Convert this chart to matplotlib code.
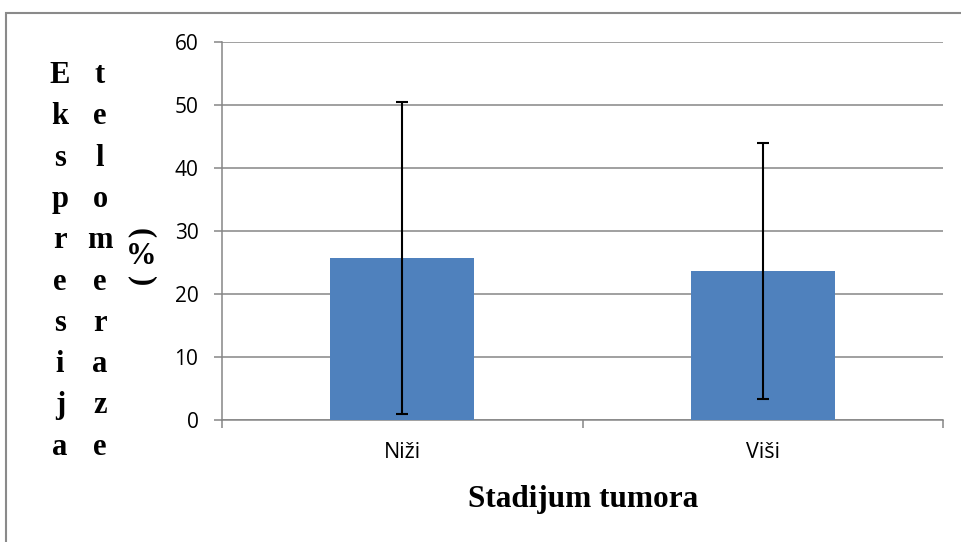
import matplotlib
matplotlib.use("Agg")
import matplotlib.pyplot as plt
from matplotlib.patches import Rectangle

# 데이터
categories = ["Niži", "Viši"]
means = [25.7, 23.65]
errors = [24.8, 20.3]
yticks = [0, 10, 20, 30, 40, 50, 60]

col1 = list("Ekspresija")
col2 = list("telomeraze")
x_title = "Stadijum tumora"

W, H = 961, 542
fig = plt.figure(figsize=(W / 100, H / 100), dpi=100)

# 바깥 테두리 (오른쪽/아래는 잘림)
fig.patches.append(Rectangle((5.5 / W, -0.1), 1.2, 1.1 - 12.5 / H, transform=fig.transFigure,
                             fill=False, edgecolor="#8a8a8a", linewidth=1.5))

ax = fig.add_axes([222 / W, (H - 420) / H, 721 / W, 378 / H])
grid_c = "#868686"

x = range(len(categories))
ax.bar(x, means, width=0.4, color="#4F81BD", zorder=3,
       yerr=errors, error_kw=dict(ecolor="black", elinewidth=1.5, capsize=4.5, capthick=1.5))

ax.set_xlim(-0.5, 1.5)
ax.set_ylim(0, 60)
ax.set_yticks(yticks)
ax.set_xticks([-0.5, 0.5, 1.5], minor=False)
ax.set_xticklabels([])
ax.set_xticks(list(x), minor=True)
ax.set_xticklabels(categories, minor=True)

ax.yaxis.grid(True, color=grid_c, linewidth=1.1, zorder=0)
ax.set_axisbelow(True)
for s in ["top", "right"]:
    ax.spines[s].set_visible(False)
for s in ["left", "bottom"]:
    ax.spines[s].set_color(grid_c)
    ax.spines[s].set_linewidth(1.1)

tick_family = ["Open Sans", "DejaVu Sans"]
ax.tick_params(axis="y", which="major", direction="out", length=6, width=1.1,
               color=grid_c, pad=11)
ax.tick_params(axis="x", which="major", direction="out", length=6, width=1.1, color=grid_c)
ax.tick_params(axis="x", which="minor", length=0, pad=16)
for lbl in ax.get_yticklabels():
    lbl.set_fontfamily(tick_family)
    lbl.set_fontsize(15)
for lbl in ax.get_xticklabels(minor=True):
    lbl.set_fontfamily(tick_family)
    lbl.set_fontsize(15.5)

# 세로로 쌓인 y축 제목
serif = dict(family=["Liberation Serif", "DejaVu Serif"], fontweight="bold", size=22)
step = 41.3
for i, (a, b) in enumerate(zip(col1, col2)):
    yb = 1 - (83 + i * step) / H
    fig.text(60 / W, yb, a, ha="center", va="baseline", **serif)
    fig.text(100 / W, yb, b, ha="center", va="baseline", **serif)

fig.text(141 / W, 1 - 233 / H, "(", ha="center", va="center", rotation=-90, **serif)
fig.text(141 / W, 1 - 257 / H, "%", ha="center", va="center", **serif)
fig.text(141 / W, 1 - 281 / H, ")", ha="center", va="center", rotation=-90, **serif)

fig.text(583 / W, 1 - 507 / H, x_title, ha="center", va="baseline",
         family=["Liberation Serif", "DejaVu Serif"], fontweight="bold", size=22.5)

fig.savefig("out.png", dpi=100, facecolor="white")
